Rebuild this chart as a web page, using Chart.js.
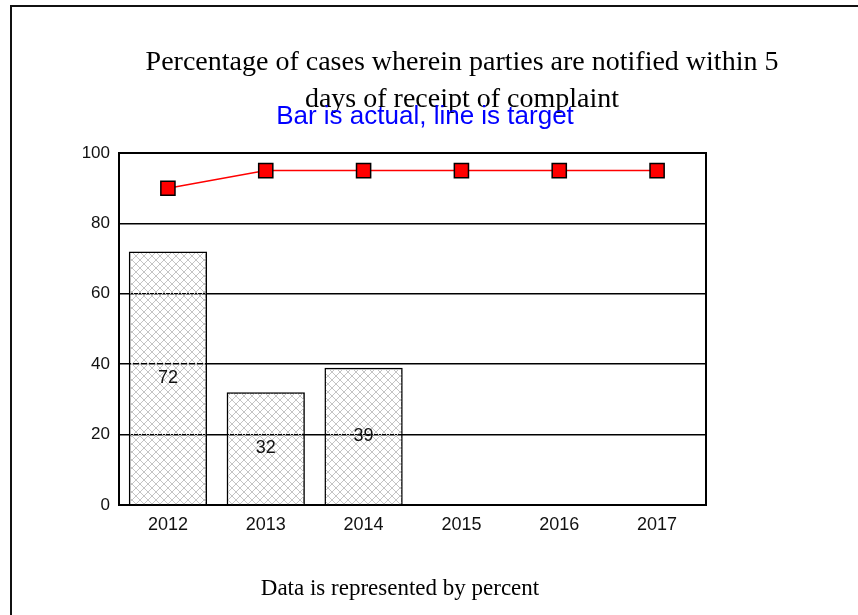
<!DOCTYPE html>
<html>
<head>
<meta charset="utf-8">
<script src="https://cdn.jsdelivr.net/npm/chart.js@4/dist/chart.umd.min.js"></script>
<style>
  body { margin: 0; background: #fff; }
  #wrap { position: relative; width: 858px; height: 615px; overflow: hidden; }
  #chart { position: absolute; left: 0; top: 0; }
  .frameTop { position: absolute; left: 10px; top: 5px; width: 848px; height: 2px; background: #111; }
  .frameLeft { position: absolute; left: 10px; top: 5px; width: 2px; height: 610px; background: #111; }
  .serif { position: absolute; text-align: center; white-space: nowrap; color: #000;
           font-family: "Liberation Serif", serif; }
  .t1 { left: 62px; width: 800px; top: 47px; font-size: 28px; line-height: 28px; }
  .t2 { left: 62px; width: 800px; top: 84px; font-size: 28px; line-height: 28px; }
  .subtitle { position: absolute; left: 25px; width: 800px; top: 102px; text-align: center; white-space: nowrap;
              font-family: "Liberation Sans", Arial, sans-serif; font-size: 26px; line-height: 26px; color: #0000ff; }
  .footer { left: 0px; width: 800px; top: 576px; font-size: 23px; line-height: 23px; }
</style>
</head>
<body>
<div id="wrap">
  <canvas id="chart" width="858" height="615"></canvas>
  <div class="frameTop"></div>
  <div class="frameLeft"></div>
  <div class="serif t1">Percentage of cases wherein parties are notified within 5</div>
  <div class="serif t2">days of receipt of complaint</div>
  <div class="subtitle">Bar is actual, line is target</div>
  <div class="serif footer">Data is represented by percent</div>
</div>
<script>
const years = ["2012", "2013", "2014", "2015", "2016", "2017"];
const actual = [72, 32, 39, null, null, null]; // bars
const target = [90, 95, 95, 95, 95, 95];       // line
const yTicks = [0, 20, 40, 60, 80, 100];

// crosshatch fill, transparent between the lines so gridlines peek through
function hatch() {
  const c = document.createElement("canvas");
  c.width = 8; c.height = 8;
  const g = c.getContext("2d");
  g.strokeStyle = "#c4c4c4";
  g.lineWidth = 1;
  g.beginPath();
  g.moveTo(0, 0); g.lineTo(8, 8);
  g.moveTo(8, 0); g.lineTo(0, 8);
  g.stroke();
  return g.createPattern(c, "repeat");
}

const barLabels = {
  id: "barLabels",
  afterDatasetsDraw(chart) {
    const ctx = chart.ctx;
    const meta = chart.getDatasetMeta(0);
    ctx.save();
    ctx.font = "18px 'Liberation Sans', Arial";
    ctx.fillStyle = "#111";
    ctx.textAlign = "center";
    ctx.textBaseline = "middle";
    meta.data.forEach((bar, i) => {
      if (actual[i] == null) return;
      const p = bar.getProps(["x", "y", "base"], true);
      ctx.fillText(actual[i], p.x, (p.y + p.base) / 2);
    });
    ctx.restore();
  }
};

const areaBox = {
  id: "areaBox",
  beforeDatasetsDraw(chart) {
    const a = chart.chartArea;
    const ctx = chart.ctx;
    ctx.save();
    ctx.strokeStyle = "#000";
    ctx.lineWidth = 2;
    ctx.strokeRect(a.left, a.top, a.right - a.left, a.bottom - a.top);
    ctx.restore();
  }
};

new Chart("chart", {
  type: "bar",
  data: {
    labels: years,
    datasets: [
      {
        label: "Actual",
        data: actual,
        backgroundColor: hatch(),
        borderColor: "#000",
        borderWidth: 1.5,
        barPercentage: 0.8,
        categoryPercentage: 1,
        order: 1
      },
      {
        label: "Target",
        type: "line",
        data: target,
        borderColor: "#ff0000",
        borderWidth: 1.5,
        pointStyle: "rect",
        pointRadius: 10,
        pointBackgroundColor: "#ff0000",
        pointBorderColor: "#000",
        pointBorderWidth: 1.5,
        order: 0
      }
    ]
  },
  options: {
    responsive: false,
    animation: false,
    layout: { padding: { left: 0, top: 153, right: 152, bottom: 80 } },
    plugins: {
      legend: { display: false },
      tooltip: { enabled: false }
    },
    scales: {
      x: {
        grid: { display: false },
        border: { color: "#000", width: 2 },
        ticks: { color: "#111", padding: 1, font: { family: "'Liberation Sans', Arial", size: 18 } },
        afterFit(s) { s.height = 30; }
      },
      y: {
        min: 0,
        max: 100,
        afterBuildTicks(s) { s.ticks = yTicks.map(v => ({ value: v })); },
        grid: { color: "#000", lineWidth: 1.5, drawTicks: false },
        border: { color: "#000", width: 2 },
        ticks: { color: "#111", padding: 9, font: { family: "'Liberation Sans', Arial", size: 17 } },
        afterFit(s) { s.width = 119; }
      }
    }
  },
  plugins: [areaBox, barLabels]
});
</script>
</body>
</html>
